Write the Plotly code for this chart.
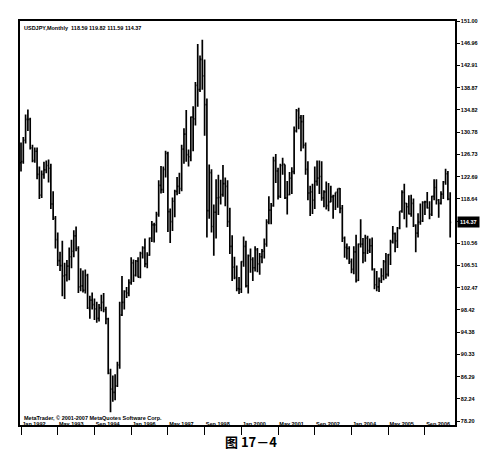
import plotly.graph_objects as go

# USDJPY monthly OHLC, Jan 1992 .. Aug 2007 (values read/estimated from the chart)
opens = [
 125.2,125.4,129.3,133.1,133.1,127.9,125.6,127.3,123.1,119.3,123.1,123.9,
 124.7,124.2,117.7,115.1,111.2,107.4,106.5,104.6,104.8,106.4,108.1,109.1,
 111.9,109.6,102.6,102.8,102.0,104.7,98.5,100.2,99.4,98.6,96.9,98.8,
 99.8,98.5,96.8,86.9,84.0,83.4,84.6,88.4,97.5,99.8,101.8,101.5,
 103.4,107.0,104.7,107.3,104.4,108.7,109.7,106.8,108.4,111.5,113.9,113.9,
 115.8,121.1,120.3,124.0,126.9,116.3,114.5,118.2,120.0,120.9,120.5,127.7,
 130.4,126.7,126.3,133.5,133.2,139.3,138.5,144.0,141.0,135.8,116.5,123.4,
 113.6,116.2,118.8,118.9,119.4,121.4,120.9,114.5,110.0,106.2,104.3,102.3,
 102.2,107.2,110.0,102.8,108.3,107.6,106.1,109.4,106.8,108.1,109.1,110.4,
 114.4,116.6,117.4,125.6,123.7,119.1,124.7,124.9,118.8,119.4,122.4,123.6,
 131.0,134.7,133.4,132.7,128.4,124.0,119.7,119.9,118.4,121.8,122.4,122.7,
 118.8,119.9,117.4,118.1,119.0,119.2,119.8,120.5,116.9,111.5,109.8,109.6,
 107.2,105.8,109.0,103.8,110.4,110.4,108.8,111.5,109.2,110.1,105.8,103.0,
 102.6,103.7,104.6,107.2,104.9,108.5,110.8,112.3,111.0,113.3,116.4,119.8,
 117.8,117.2,115.9,117.8,113.8,112.4,114.4,114.6,118.0,118.1,117.0,115.8,
 119.1,120.7,118.4,117.8,119.5,121.7,123.2,118.59]
highs = [
 128.9,129.9,134.0,134.9,133.4,128.5,128.0,128.0,124.5,123.8,125.4,125.6,
 125.8,125.0,120.0,115.5,112.5,109.0,111.0,107.0,107.5,109.8,111.2,112.9,
 113.6,110.0,106.0,105.6,105.8,105.0,101.0,101.6,100.5,99.9,99.5,101.2,
 101.5,99.0,97.0,87.7,86.5,86.7,89.0,99.9,104.6,102.0,102.6,104.0,
 108.0,107.6,107.5,108.0,109.0,110.0,111.4,108.9,111.6,114.6,114.3,116.3,
 122.0,124.6,124.5,127.4,127.2,116.9,118.9,120.3,122.6,123.4,128.5,131.5,
 134.8,127.6,133.6,135.5,139.9,146.8,144.7,147.6,144.0,136.9,124.9,124.0,
 117.6,122.2,123.0,122.1,124.8,122.5,122.0,117.0,112.0,108.1,106.5,104.4,
 107.3,111.8,111.0,108.5,109.6,108.0,110.0,109.7,108.8,109.5,111.4,114.9,
 119.1,117.9,126.3,126.8,124.3,125.0,126.1,124.9,121.9,123.5,124.4,131.8,
 135.0,135.2,133.9,133.9,128.9,125.5,121.0,121.4,124.5,125.6,125.6,125.5,
 120.2,121.8,121.5,121.0,119.4,119.8,120.5,120.6,117.5,111.8,110.5,110.0,
 107.8,110.0,112.1,110.5,114.9,111.5,112.1,111.9,111.4,111.6,106.0,105.5,
 104.3,106.0,107.5,108.8,108.6,111.2,113.7,112.5,113.5,116.4,120.2,121.4,
 117.9,119.3,119.4,118.7,114.0,116.0,117.8,118.2,118.3,119.9,118.2,119.2,
 122.2,122.2,118.6,120.0,121.9,124.1,123.7,119.82]
lows = [
 123.6,125.0,128.7,131.0,127.6,125.3,125.2,122.2,118.6,118.8,122.3,123.3,
 121.6,116.8,114.8,109.6,106.4,105.5,100.9,100.4,103.6,103.8,106.0,108.0,
 109.1,101.5,101.8,101.6,101.4,98.6,96.8,98.5,96.6,96.1,96.3,98.2,
 98.0,95.8,86.7,79.8,81.7,82.0,84.4,87.7,97.3,98.5,100.6,100.9,
 103.0,103.5,104.5,104.3,104.2,107.8,106.2,106.0,108.3,110.8,110.7,112.5,
 115.4,119.6,119.7,122.5,112.6,110.6,112.8,115.3,119.3,119.5,120.0,125.0,
 125.4,124.5,125.5,127.3,132.0,135.4,138.1,138.5,130.1,111.6,115.0,112.5,
 108.3,111.4,115.7,117.6,119.0,117.3,113.5,108.6,103.7,104.0,101.8,101.3,
 101.5,106.3,102.5,101.4,105.2,103.7,105.4,105.3,104.8,106.9,107.8,109.9,
 114.0,114.0,117.2,121.5,118.5,118.8,123.0,118.6,115.8,119.3,119.5,123.1,
 130.7,131.3,127.3,127.8,123.0,118.4,115.5,115.9,116.8,121.0,119.5,118.3,
 117.1,116.7,116.4,118.0,115.0,116.6,117.0,116.0,110.8,107.9,107.6,106.8,
 105.1,104.9,103.4,103.7,109.8,106.9,107.2,108.6,108.8,105.6,102.2,101.8,
 101.7,103.3,103.8,104.1,104.5,106.6,110.5,108.9,109.7,113.1,116.1,114.9,
 113.4,115.8,115.4,113.5,108.9,111.6,113.9,114.4,115.7,116.9,114.9,115.5,
 118.4,117.6,115.2,117.6,118.6,121.2,118.4,111.59]
closes = [
 125.4,129.3,133.1,133.1,127.9,125.6,127.3,123.1,119.3,123.1,123.9,124.7,
 124.2,117.7,115.1,111.2,107.4,106.5,104.6,104.8,106.4,108.1,109.1,111.9,
 109.6,102.6,102.8,102.0,104.7,98.8,100.2,99.4,98.6,96.9,98.8,99.8,
 98.5,96.8,86.9,84.0,83.4,84.6,88.4,97.5,99.8,101.8,101.5,103.4,
 107.0,104.7,107.3,104.4,108.7,109.7,106.8,108.4,111.5,113.9,113.9,115.8,
 121.1,120.3,124.0,126.9,116.3,114.5,118.2,120.0,120.9,120.5,127.7,130.4,
 126.7,126.3,133.5,133.2,139.3,138.5,144.0,141.0,135.8,116.5,123.4,113.6,
 116.2,118.8,118.9,119.4,121.4,120.9,114.5,110.0,106.2,104.3,102.3,102.2,
 107.2,110.0,102.8,108.3,107.6,106.1,109.4,106.8,108.1,109.1,110.4,114.4,
 116.6,117.4,125.6,123.7,119.1,124.7,124.9,118.8,119.4,122.4,123.6,131.0,
 134.7,133.4,132.7,128.4,124.0,119.7,119.9,118.4,121.8,122.4,122.7,118.8,
 119.9,117.4,118.1,119.0,119.2,119.8,120.5,116.9,111.5,109.8,109.6,107.2,
 105.8,109.0,103.8,110.4,110.4,108.8,111.5,109.2,110.1,105.8,103.0,102.6,
 103.7,104.6,107.2,104.9,108.5,110.8,112.3,111.0,113.3,116.4,119.8,117.8,
 117.2,115.9,117.8,113.8,112.4,114.4,114.6,118.0,118.1,117.0,115.8,119.1,
 120.7,118.4,117.8,119.5,121.7,123.2,118.6,114.37]

x_ticktext = ["Jan 1992", "May 1993", "Sep 1994", "Jan 1996", "May 1997", "Sep 1998",
              "Jan 2000", "May 2001", "Sep 2002", "Jan 2004", "May 2005", "Sep 2006"]
x_tickvals = [0, 16, 32, 48, 64, 80, 96, 112, 128, 144, 160, 176]

y_tickvals = [151.00, 146.96, 142.91, 138.87, 134.82, 130.78, 126.73, 122.69, 118.64,
              114.60, 110.56, 106.51, 102.47, 98.42, 94.38, 90.33, 86.29, 82.24, 78.20]
y_ticktext = ["151.00", "146.96", "142.91", "138.87", "134.82", "130.78", "126.73", "122.69",
              "118.64", "", "110.56", "106.51", "102.47", "98.42", "94.38", "90.33", "86.29",
              "82.24", "78.20"]

title_text = "USDJPY,Monthly  118.59 119.82 111.59 114.37"
last_price = 114.37

xs = list(range(len(closes)))

fig = go.Figure(go.Ohlc(
    x=xs, open=opens, high=highs, low=lows, close=closes,
    increasing=dict(line=dict(color="black", width=1.7)),
    decreasing=dict(line=dict(color="black", width=1.7)),
    tickwidth=0.45, showlegend=False, hoverinfo="skip"))

small = dict(family="Liberation Sans, Arial", size=5.5, color="black", weight="bold")

fig.update_layout(
    width=490, height=460,
    margin=dict(l=12, r=43, t=10, b=43),
    paper_bgcolor="white", plot_bgcolor="white",
    showlegend=False,
    xaxis=dict(range=[-0.44, 189.1], showgrid=False, zeroline=False,
               rangeslider=dict(visible=False),
               showline=True, mirror=True, linecolor="black", linewidth=1.5,
               ticks="outside", ticklen=8, tickcolor="black", tickwidth=1,
               tickvals=x_tickvals, ticktext=x_ticktext,
               ticklabelposition="outside right", ticklabelstandoff=-7,
               tickfont=small),
    yaxis=dict(range=[77.48, 151.0], side="right", showgrid=False, zeroline=False,
               showline=True, mirror=True, linecolor="black", linewidth=1.5,
               ticks="outside", ticklen=3, tickcolor="black", tickwidth=1,
               tickvals=y_tickvals, ticktext=y_ticktext, tickfont=small),
    annotations=[
        dict(text=title_text, xref="paper", yref="paper", x=0.005, y=0.995,
             xanchor="left", yanchor="top", showarrow=False, font=small),
        dict(text="MetaTrader, © 2001-2007 MetaQuotes Software Corp.", xref="paper",
             yref="paper", x=0.005, y=0.005, xanchor="left", yanchor="bottom",
             showarrow=False, font=small),
        dict(text=f"{last_price:.2f}", xref="paper", yref="y", x=1.0, y=last_price,
             xanchor="left", yanchor="middle", xshift=2, showarrow=False,
             bgcolor="black", borderpad=2,
             font=dict(family="Liberation Sans, Arial", size=5.5, color="white", weight="bold")),
        dict(text="图 17－4", xref="paper", yref="paper", x=0.53, y=-0.04,
             xanchor="center", yanchor="middle", showarrow=False,
             font=dict(family="Noto Sans CJK SC", size=13, color="black", weight="bold")),
    ],
)

fig.write_html("out.html")
